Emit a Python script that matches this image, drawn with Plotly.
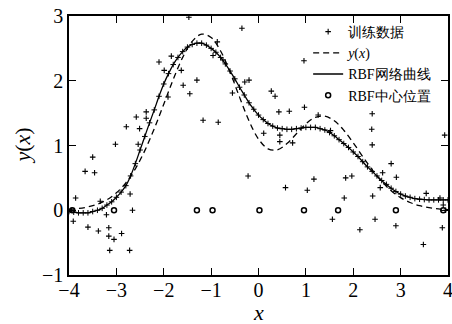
import plotly.graph_objects as go

# training data (noisy samples)
train_x = [-3.95, -3.91, -3.86, -3.66, -3.60, -3.50, -3.46, -3.38, -3.34, -3.21, -3.16, -3.16,
           -3.14, -3.05, -3.02, -2.89, -2.79, -2.72, -2.71, -2.66, -2.58, -2.54, -2.51, -2.37,
           -2.37, -2.10, -1.99, -1.91, -1.84, -1.63, -1.59, -1.47, -1.45, -1.30, -1.17, -0.96,
           -0.87, -0.85, -0.75, -0.55, -0.35, -0.29, -0.20, -0.22, 0.11, 0.27, 0.35, 0.43,
           0.45, 0.45, 0.57, 0.65, 0.72, 0.96, 0.97, 1.03, 1.17, 1.26, 1.52, 1.56,
           1.81, 1.84, 1.97, 2.14, 2.40, 2.39, 2.40, 2.41, 2.46, 2.57, 2.62, 2.80,
           2.91, 2.90, 3.48, 3.54, 3.83, 3.88, 3.93, 3.90, 3.95]
train_y = [0.00, -0.17, 0.19, 0.60, -0.26, 0.82, 0.58, -0.32, 0.14, -0.07, -0.27, -0.40,
           -0.62, -0.45, 1.02, -0.36, 1.29, -0.62, 0.25, 0.00, 1.44, 1.02, 1.26, 1.52,
           1.42, 2.29, 2.16, 1.75, 2.38, 2.16, 1.93, 2.98, 1.80, 2.01, 1.39, 2.39,
           2.60, 1.36, 2.32, 1.81, 2.81, 1.98, 2.01, 0.53, 1.19, 1.84, 1.76, 1.52,
           1.16, 1.06, 0.35, 1.53, 1.04, 2.31, 1.59, 0.31, 0.48, 1.47, 1.23, -0.14,
           0.19, 0.50, 0.53, -0.30, 1.49, 1.25, 1.01, 0.22, -0.14, 0.35, 0.58, 0.72,
           0.51, -0.24, -0.53, 0.26, 0.19, -0.27, 1.16, 0.08, 0.00]

# true function y(x), read at step 0.2
true_x = [round(-4 + 0.2 * i, 1) for i in range(41)]
true_y = [0.014, 0.027, 0.052, 0.094, 0.162, 0.269, 0.424, 0.640, 0.921, 1.260,
          1.637, 2.020, 2.361, 2.609, 2.720, 2.669, 2.460, 2.132, 1.747, 1.380,
          1.100, 0.949, 0.934, 1.029, 1.182, 1.334, 1.435, 1.453, 1.382, 1.236,
          1.042, 0.829, 0.625, 0.446, 0.302, 0.195, 0.120, 0.070, 0.040, 0.021, 0.011]

# RBF network output, read at step 0.1
rbf_x = [round(-4 + 0.1 * i, 1) for i in range(81)]
rbf_y = [-0.02, -0.03, -0.04, -0.04, -0.04, -0.02, 0.00, 0.03, 0.08, 0.13,
         0.20, 0.28, 0.38, 0.53, 0.72, 0.93, 1.14, 1.35, 1.55, 1.76,
         1.95, 2.11, 2.25, 2.36, 2.45, 2.52, 2.56, 2.58, 2.58, 2.55,
         2.50, 2.44, 2.36, 2.26, 2.15, 2.03, 1.90, 1.78, 1.66, 1.56,
         1.47, 1.40, 1.34, 1.30, 1.27, 1.26, 1.25, 1.25, 1.26, 1.27,
         1.28, 1.28, 1.28, 1.26, 1.24, 1.20, 1.15, 1.09, 1.03, 0.97,
         0.90, 0.83, 0.75, 0.67, 0.60, 0.53, 0.46, 0.40, 0.34, 0.29,
         0.25, 0.22, 0.20, 0.18, 0.17, 0.165, 0.16, 0.16, 0.16, 0.16, 0.16]

# RBF centres
center_x = [-3.93, -3.05, -1.30, -0.97, 0.02, 0.96, 1.68, 2.90, 3.90]
center_y = [0, 0, 0, 0, 0, 0, 0, 0, 0]

FONT = "Liberation Serif"

fig = go.Figure()
fig.add_trace(go.Scatter(
    x=train_x, y=train_y, mode="markers", name="训练数据",
    marker=dict(symbol="cross-thin", size=4, color="black",
                line=dict(color="black", width=1.1))))
fig.add_trace(go.Scatter(
    x=true_x, y=true_y, mode="lines", name="<i>y</i>(<i>x</i>)",
    line=dict(color="black", width=1.3, dash="6px,4px", shape="spline")))
fig.add_trace(go.Scatter(
    x=rbf_x, y=rbf_y, mode="lines", name="RBF网络曲线",
    line=dict(color="black", width=1.3, shape="spline")))
fig.add_trace(go.Scatter(
    x=rbf_x, y=rbf_y, mode="markers", showlegend=False,
    marker=dict(symbol="cross-thin", size=4, color="black",
                line=dict(color="black", width=1))))
fig.add_trace(go.Scatter(
    x=center_x, y=center_y, mode="markers", name="RBF中心位置",
    marker=dict(symbol="circle-open", size=5, color="black",
                line=dict(color="black", width=1.5))))

axis_common = dict(
    showline=True, linecolor="black", linewidth=1.5, mirror="ticks",
    ticks="inside", ticklen=7, tickwidth=1.3, tickcolor="black",
    showgrid=False, zeroline=False, automargin=False,
    ticklabeloverflow="allow",
    tickfont=dict(family=FONT, size=20, color="black"),
)

fig.update_layout(
    width=452, height=324,
    margin=dict(l=69, r=4, t=16, b=49),
    paper_bgcolor="white", plot_bgcolor="white",
    font=dict(family=FONT, color="black"),
    showlegend=True,
    legend=dict(x=0.631, y=1.0, xanchor="left", yanchor="top",
                bgcolor="rgba(0,0,0,0)", borderwidth=0,
                font=dict(family=FONT, size=14, color="black"),
                tracegroupgap=0, itemwidth=30),
    xaxis=dict(range=[-4, 4], tickvals=[-4, -3, -2, -1, 0, 1, 2, 3, 4],
               ticklabelstandoff=-4, **axis_common),
    yaxis=dict(range=[-1, 3], tickvals=[-1, 0, 1, 2, 3], **axis_common),
    annotations=[
        dict(text="<i>x</i>", xref="paper", yref="paper", x=0.5, y=0, yshift=-37,
             xanchor="center", yanchor="middle", showarrow=False,
             font=dict(family=FONT, size=22, color="black")),
        dict(text="<i>y</i>(<i>x</i>)", xref="paper", yref="paper", x=0, xshift=-47, y=0.5,
             xanchor="center", yanchor="middle", textangle=-90, showarrow=False,
             font=dict(family=FONT, size=22, color="black")),
    ],
)

fig.write_html("out.html",
               config={"displayModeBar": False},
               post_script="document.body.style.margin='0';document.body.style.overflow='hidden';")
